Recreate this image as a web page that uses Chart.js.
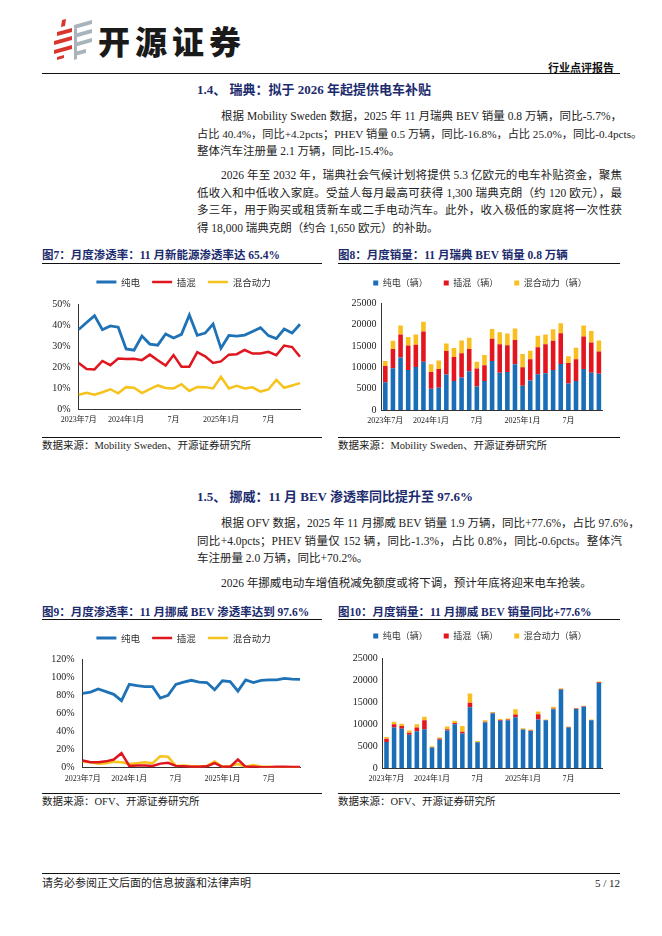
<!DOCTYPE html>
<html><head><meta charset="utf-8">
<script src="https://cdn.jsdelivr.net/npm/chart.js@4.4.0/dist/chart.umd.min.js"></script>
<style>
html,body{margin:0;padding:0;background:#fff;}
#page{position:relative;width:662px;height:936px;overflow:hidden;font-family:"Liberation Serif","Noto Sans CJK SC",serif;color:#1a1a1a;}
.a{position:absolute;white-space:nowrap;}
.ln{position:absolute;white-space:nowrap;line-height:16px;height:16px;font-size:11.5px;color:#222;}
.j{text-align:justify;text-align-last:justify;}
.h{position:absolute;white-space:nowrap;line-height:18px;font-size:13px;font-weight:bold;color:#1c2b6e;}
.ft{position:absolute;white-space:nowrap;line-height:16px;font-size:11.5px;font-weight:bold;color:#1c2b6e;}
.src{position:absolute;white-space:nowrap;line-height:14px;font-size:10.5px;color:#222;}
.rule{position:absolute;height:0;border-top:1px solid #111;}
canvas{position:absolute;}
</style></head>
<body>
<div id="page">
  <svg class="a" style="left:52px;top:19px" width="44" height="42" viewBox="0 0 44 42">
    <polygon points="10,1 14,0 13,7 9,8" fill="#d8352c"/>
    <polygon points="5,13 20,9 20,13 5,17" fill="#d8352c"/>
    <polygon points="2,22 20,17 20,21 2,26" fill="#d8352c"/>
    <polygon points="2,31 20,26 20,30 2,35" fill="#d8352c"/>
    <polygon points="5,38 12,36 12,39 5,41" fill="#d8352c"/>
    <polygon points="22,6 40,1 40,5 22,10" fill="#a8b3bc"/>
    <polygon points="22,15 40,10 40,14 22,19" fill="#a8b3bc"/>
    <polygon points="22,24 40,19 40,23 22,28" fill="#a8b3bc"/>
    <polygon points="22,33 34,30 34,34 22,37" fill="#a8b3bc"/>
    <polygon points="22,10 25,9 25,40 22,41" fill="#a8b3bc"/>
  </svg>
  <div class="a" style="left:98px;top:20px;font-family:'Noto Sans CJK SC';font-weight:900;font-size:32px;line-height:40px;letter-spacing:5px;color:#1a1a1a;">开源证券</div>
  <div class="a" style="left:548px;top:60px;font-family:'Noto Sans CJK SC';font-weight:bold;font-size:11px;line-height:14px;color:#111;">行业点评报告</div>
  <div class="rule" style="left:42px;top:73px;width:578px;border-top:1.5px solid #111;"></div>

  <div class="h" style="left:197px;top:81px;">1.4、 瑞典：拟于 2026 年起提供电车补贴</div>
  <div class="ln j" style="left:221px;top:108px;width:401px;">根据 Mobility Sweden 数据，2025 年 11 月瑞典 BEV 销量 0.8 万辆，同比-5.7%，</div>
  <div class="ln j" style="left:197px;top:126px;width:425px;font-size:11.2px;">占比 40.4%，同比+4.2pcts；PHEV 销量 0.5 万辆，同比-16.8%，占比 25.0%，同比-0.4pcts。</div>
  <div class="ln" style="left:197px;top:143px;">整体汽车注册量 2.1 万辆，同比-15.4%。</div>
  <div class="ln j" style="left:221px;top:167px;width:401px;">2026 年至 2032 年，瑞典社会气候计划将提供 5.3 亿欧元的电车补贴资金，聚焦</div>
  <div class="ln j" style="left:197px;top:185px;width:425px;">低收入和中低收入家庭。受益人每月最高可获得 1,300 瑞典克朗（约 120 欧元），最</div>
  <div class="ln j" style="left:197px;top:202px;width:425px;">多三年，用于购买或租赁新车或二手电动汽车。此外，收入极低的家庭将一次性获</div>
  <div class="ln" style="left:197px;top:220px;">得 18,000 瑞典克朗（约合 1,650 欧元）的补助。</div>

  <div class="ft" style="left:42px;top:247px;">图7：月度渗透率：11 月新能源渗透率达 65.4%</div>
  <div class="ft" style="left:338px;top:247px;">图8：月度销量：11 月瑞典 BEV 销量 0.8 万辆</div>
  <div class="rule" style="left:42px;top:263px;width:280px;border-top:1.5px solid #111;"></div>
  <div class="rule" style="left:338px;top:263px;width:282px;border-top:1.5px solid #111;"></div>
  <div class="rule" style="left:42px;top:437px;width:280px;"></div>
  <div class="rule" style="left:338px;top:437px;width:282px;"></div>
  <div class="src" style="left:42px;top:439px;">数据来源：Mobility Sweden、开源证券研究所</div>
  <div class="src" style="left:338px;top:439px;">数据来源：Mobility Sweden、开源证券研究所</div>

  <div class="h" style="left:197px;top:488px;">1.5、 挪威：11 月 BEV 渗透率同比提升至 97.6%</div>
  <div class="ln j" style="left:221px;top:515px;width:401px;">根据 OFV 数据，2025 年 11 月挪威 BEV 销量 1.9 万辆，同比+77.6%，占比 97.6%，</div>
  <div class="ln j" style="left:197px;top:533px;width:425px;">同比+4.0pcts；PHEV 销量仅 152 辆，同比-1.3%，占比 0.8%，同比-0.6pcts。整体汽</div>
  <div class="ln" style="left:197px;top:550px;">车注册量 2.0 万辆，同比+70.2%。</div>
  <div class="ln" style="left:221px;top:575px;">2026 年挪威电动车增值税减免额度或将下调，预计年底将迎来电车抢装。</div>

  <div class="ft" style="left:42px;top:604px;">图9：月度渗透率：11 月挪威 BEV 渗透率达到 97.6%</div>
  <div class="ft" style="left:338px;top:604px;">图10：月度销量：11 月挪威 BEV 销量同比+77.6%</div>
  <div class="rule" style="left:42px;top:619px;width:280px;border-top:1.5px solid #111;"></div>
  <div class="rule" style="left:338px;top:619px;width:282px;border-top:1.5px solid #111;"></div>
  <div class="rule" style="left:42px;top:793px;width:280px;"></div>
  <div class="rule" style="left:338px;top:793px;width:282px;"></div>
  <div class="src" style="left:42px;top:795px;">数据来源：OFV、开源证券研究所</div>
  <div class="src" style="left:338px;top:795px;">数据来源：OFV、开源证券研究所</div>

  <div class="rule" style="left:42px;top:873px;width:578px;"></div>
  <div class="a" style="left:42px;top:876px;font-size:11px;line-height:14px;color:#222;">请务必参阅正文后面的信息披露和法律声明</div>
  <div class="a" style="right:42px;top:876px;font-size:11px;line-height:14px;color:#222;">5 / 12</div>

  <canvas id="c7"></canvas>
  <canvas id="c8"></canvas>
  <canvas id="c9"></canvas>
  <canvas id="c10"></canvas>
</div>
<script>
// ---------- data ----------
const months = ['2023年7月','2023年8月','2023年9月','2023年10月','2023年11月','2023年12月',
  '2024年1月','2024年2月','2024年3月','2024年4月','2024年5月','2024年6月',
  '2024年7月','2024年8月','2024年9月','2024年10月','2024年11月','2024年12月',
  '2025年1月','2025年2月','2025年3月','2025年4月','2025年5月','2025年6月',
  '2025年7月','2025年8月','2025年9月','2025年10月','2025年11月'];
const xTickLabels = ['2023年7月','','','','','','2024年1月','','','','','','7月','','','','','',
  '2025年1月','','','','','','7月','','','',''];
const lineNames = ['纯电','插混','混合动力'];
const barNames = ['纯电（辆）','插混（辆）','混合动力（辆）'];

// Sweden penetration (%)
const seBevPct  = [37.9,41.2,44.5,37.8,39.6,39.0,28.7,28.1,34.8,31.0,30.5,35.8,33.9,35.6,44.8,35.2,36.2,40.5,29.0,35.1,34.8,35.3,37.0,38.8,35.0,33.6,38.1,36.2,40.4];
const sePhevPct = [22.0,19.2,19.0,23.0,21.0,24.2,23.9,24.0,23.4,26.0,23.3,20.8,25.8,20.3,20.3,27.2,25.2,22.1,22.8,26.0,26.2,28.2,26.5,26.5,27.3,25.7,30.3,29.6,25.0];
const seHevPct  = [7.0,7.9,7.0,8.2,9.6,7.7,10.6,10.3,7.8,9.7,11.4,10.2,10.0,12.0,8.8,10.7,10.6,10.0,15.5,10.0,11.2,10.0,10.5,8.5,9.5,14.0,10.3,11.4,12.5];

// Sweden monthly sales (units)
const seBev  = [6500,9800,12300,9400,10100,11300,5000,5200,8300,6800,7600,9100,5500,6800,11500,8700,8900,10700,5700,6900,8400,8600,9400,10800,6200,6800,9600,8700,8500];
const sePhev = [3800,4500,5400,5700,5200,7100,3900,4400,5500,5600,5700,5200,4200,3700,5200,6700,6300,5700,4300,5000,6300,6800,6800,7200,4800,5100,7600,7100,5200];
const seHev  = [1200,1900,2100,2000,2400,2300,1800,2000,1800,2100,3000,2600,1600,2400,2300,2800,2700,2700,3100,2000,2700,2300,2700,2300,1600,2700,2600,2700,2600];

// Norway penetration (%)
const noBevPct  = [82,83.5,87,84,81,74,92,90.5,89.5,89.5,77,80,92,94.5,96.5,94.5,94,86,96,95,84.5,97,94,96.5,97,97,98.5,97.7,97.6];
const noPhevPct = [8,6,6,7,9,16,2,2.5,2.5,2,4.5,5.5,2,1.5,1,1,1.5,5,1,1,9,1,1,0.5,0.5,1,1,0.8,0.8];
const noHevPct  = [6.5,6,4.5,5,6.5,6,4,5,6,5,12.5,12,2,2.5,1.5,1.5,2,7,1,2,4,1,3,1,1,0.5,0.5,0.5,0.5];

// Norway monthly sales (units)
const noBev  = [6000,9300,9000,7600,8400,8900,4700,6500,8600,10000,7900,13900,5900,10400,12500,10800,10900,11600,8800,8500,11100,10900,13400,17900,9300,13500,14000,10900,19400];
const noPhev = [700,700,600,500,900,2000,100,300,300,300,400,1000,100,200,100,200,200,600,100,100,1200,100,200,100,100,100,100,100,152];
const noHev  = [400,600,500,500,700,800,200,200,600,500,1300,2100,200,300,200,200,200,1200,200,200,600,100,400,200,100,100,100,100,150];

// ---------- styling / layout ----------
const lineColors = ['#1f72b6','#e0161f','#f6c21c'];
const barColors  = ['#1a6eb7','#e3151e','#f8bf1f'];
Chart.defaults.font.family = "'Liberation Serif','Noto Sans CJK SC',serif";
Chart.defaults.color = '#222';

// canvas left/top/height, plot box, legend centre, legend font/padding
const geos = {
  c7:  {cl:30,  ct:262, ch:174, pL:78.7,  pR:300,   pT:304,   pB:409.5, lx:183.5, ly:282, lf:9.5, lp:12, yPad:8},
  c8:  {cl:340, ct:262, ch:174, pL:381.5, pR:602.7, pT:303.3, pB:410,   lx:480,   ly:283, lf:9,   lp:16, yPad:5},
  c9:  {cl:30,  ct:614, ch:176, pL:82.7,  pR:300,   pT:659,   pB:767.7, lx:183.5, ly:638, lf:9.5, lp:12, yPad:8},
  c10: {cl:340, ct:612, ch:178, pL:382.7, pR:602.7, pT:658.3, pB:768.3, lx:480,   ly:636, lf:9,   lp:16, yPad:5}
};

function build(id, type, names, series, yMax, yStep, ySuffix) {
  const g = geos[id];
  const right = 2 * g.lx - g.cl;
  const cw = right - g.cl;
  const cv = document.getElementById(id);
  cv.width = cw; cv.height = g.ch;
  cv.style.left = g.cl + 'px'; cv.style.top = g.ct + 'px';
  cv.style.width = cw + 'px'; cv.style.height = g.ch + 'px';
  const padTop = g.ly - g.ct - g.lp - g.lf / 2;
  const extra = (g.pT - g.ct - padTop) - (g.lf + g.lp + 10);
  const yWidth = g.pL - g.cl;
  const y2Width = right - g.pR;
  const xHeight = g.ct + g.ch - g.pB;
  const isLine = type === 'line';
  const colors = isLine ? lineColors : barColors;
  const datasets = series.map((d, i) => isLine ? {
      label: names[i], data: d, borderColor: colors[i], backgroundColor: colors[i],
      borderWidth: i === 0 ? 2.8 : 2.5, pointRadius: 0, tension: 0, fill: false, yAxisID: 'y'
    } : {
      label: names[i], data: d, backgroundColor: colors[i], borderWidth: 0,
      barPercentage: 0.6, categoryPercentage: 1, stack: 's', yAxisID: 'y'
    });
  const gapPlugin = {id: 'legendGap', afterInit(chart) {
    const lg = chart.legend; if (!lg) return;
    const orig = lg.fit;
    lg.fit = function() { orig.call(this); this.height += extra; };
  }};
  new Chart(cv, {
    type: type,
    data: {labels: months, datasets: datasets},
    plugins: [gapPlugin],
    options: {
      responsive: false, animation: false,
      layout: {padding: {top: padTop, left: 0, right: 0, bottom: 0}},
      plugins: {
        tooltip: {enabled: false},
        legend: {
          position: 'top',
          labels: isLine ? {
            usePointStyle: true, pointStyle: 'line', pointStyleWidth: 20,
            padding: g.lp, color: '#333',
            font: {size: g.lf, family: "'Noto Sans CJK SC'"}
          } : {
            boxWidth: 5, boxHeight: 5, padding: g.lp, color: '#333',
            font: {size: g.lf, family: "'Noto Sans CJK SC'"}
          }
        }
      },
      scales: {
        x: {
          stacked: !isLine,
          grid: {display: false, drawTicks: false},
          border: {display: true, color: '#333', width: 1},
          ticks: {autoSkip: false, maxRotation: 0, minRotation: 0, padding: 6, color: '#222',
            font: {size: 8},
            callback: (v, i) => xTickLabels[i]},
          afterFit: s => { s.height = xHeight; }
        },
        y: {
          stacked: !isLine,
          min: 0, max: yMax,
          grid: {display: false, drawTicks: false},
          border: {display: true, color: '#333', width: 1},
          ticks: {stepSize: yStep, padding: g.yPad, color: '#222', font: {size: 10},
            callback: v => v + ySuffix},
          afterFit: s => { s.width = yWidth; }
        },
        y2: {
          position: 'right', display: true,
          grid: {display: false, drawTicks: false},
          border: {display: false},
          ticks: {display: false},
          afterFit: s => { s.width = y2Width; }
        }
      }
    }
  });
}

build('c7', 'line', lineNames, [seBevPct, sePhevPct, seHevPct], 50, 10, '%');
build('c8', 'bar', barNames, [seBev, sePhev, seHev], 25000, 5000, '');
build('c9', 'line', lineNames, [noBevPct, noPhevPct, noHevPct], 120, 20, '%');
build('c10', 'bar', barNames, [noBev, noPhev, noHev], 25000, 5000, '');
</script>
</body></html>
